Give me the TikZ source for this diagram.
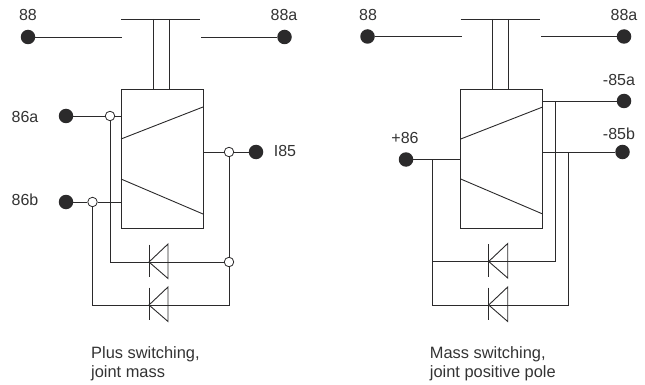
\documentclass[tikz,border=0pt]{standalone}
\usepackage{fontspec}
\setmainfont{Liberation Sans}
\definecolor{ink}{HTML}{2B2A2B}
\definecolor{txt}{HTML}{333333}
\tikzset{
 x=1pt,y=-1pt,
 wire/.style={draw=ink,line width=0.9pt},
 term/.style={circle,fill=ink,draw=none,minimum size=14.5pt,inner sep=0pt},
 junc/.style={circle,fill=white,draw=ink,line width=0.8pt,minimum size=9.5pt,inner sep=0pt},
 lab/.style={text=txt,font=\fontsize{16}{18}\selectfont,inner sep=0pt,anchor=center},
 captext/.style={text=txt,font=\fontsize{16.4}{19}\selectfont,inner sep=0pt,anchor=north west,align=left}
}
\newcommand{\diode}[2]{%
 \draw[wire] (#1,#2-17.5) -- (#1,#2+15);
 \draw[wire] (#1+19,#2-18) -- (#1,#2) -- (#1+19,#2+16.5) -- cycle;
}
\newcommand{\relaybody}[1]{%
 \coordinate (topL) at (#1+121,19);
 \coordinate (topR) at (#1+200,19);
 \draw[wire] (topL) -- (topR);
 \draw[wire] (#1+153,19) -- (#1+153,89);
 \draw[wire] (#1+169,19) -- (#1+169,89);
 \draw[wire] (#1+121,89) rectangle (#1+203,228);
 \draw[wire] (#1+121,139) -- (#1+203,107);
 \draw[wire] (#1+121,179) -- (#1+203,214);
}
\begin{document}
\begin{tikzpicture}
\useasboundingbox (0,0) rectangle (645,385);
% left
\relaybody{0}
\node[term] (a88) at (28,37) {};
\node[term] (a88a) at (284.5,37) {};
\coordinate (a88e) at (122,37);
\coordinate (a88ae) at (201,37);
\draw[wire] (a88) -- (a88e);
\draw[wire] (a88a) -- (a88ae);
\node[lab] at (28,15) {88};
\node[lab] at (284,15) {88a};
\node[term] (a86a) at (66,116) {};
\node[junc] (j1) at (110,116) {};
\coordinate (b1) at (121,116);
\draw[wire] (a86a) -- (j1) -- (b1);
\node[lab] at (25,117) {86a};
\node[term] (a86b) at (66,202) {};
\node[junc] (j2) at (92.5,202) {};
\coordinate (b2) at (121,202);
\draw[wire] (a86b) -- (j2) -- (b2);
\node[lab] at (25,200) {86b};
\node[term] (a85) at (256,152) {};
\node[junc] (j3) at (229,152) {};
\coordinate (b3) at (203,152);
\draw[wire] (b3) -- (j3) -- (a85);
\node[lab] at (285,151) {I85};
\node[junc] (j4) at (229,262) {};
\coordinate (c1) at (110,262);
\coordinate (c2) at (92.5,305);
\coordinate (c3) at (229,305);
\draw[wire] (j1) -- (c1) -- (j4);
\draw[wire] (j3) -- (j4) -- (c3) -- (c2) -- (j2);
\diode{149}{262}
\diode{149}{305}
\node[captext] at (91,346.5) {Plus switching,\\joint mass};
% right
\relaybody{339.7}
\node[term] (b88) at (367.5,36.5) {};
\node[term] (b88a) at (624,36.5) {};
\coordinate (b88e) at (461.5,36.5);
\coordinate (b88ae) at (540.5,36.5);
\draw[wire] (b88) -- (b88e);
\draw[wire] (b88a) -- (b88ae);
\node[lab] at (368,15) {88};
\node[lab] at (624,15) {88a};
\node[term] (t85a) at (624,101) {};
\coordinate (r1) at (542.7,101);
\draw[wire] (r1) -- (t85a);
\node[lab] at (619,80) {-85a};
\node[term] (t85b) at (622.5,152) {};
\coordinate (r2) at (542.7,152);
\draw[wire] (r2) -- (t85b);
\node[lab] at (619,134) {-85b};
\node[term] (t86) at (406,159.5) {};
\coordinate (r3) at (460.7,159.5);
\draw[wire] (t86) -- (r3);
\node[lab] at (405,138) {+86};
\coordinate (v1) at (432,159.5);
\coordinate (v2) at (432,305);
\coordinate (v3) at (568.3,305);
\coordinate (v4) at (568.3,152);
\coordinate (v5) at (432,261.5);
\coordinate (v6) at (555.7,261.5);
\coordinate (v7) at (555.7,101);
\draw[wire] (v1) -- (v2) -- (v3) -- (v4);
\draw[wire] (v5) -- (v6) -- (v7);
\diode{488.7}{261.5}
\diode{488.7}{305}
\node[captext] at (429.7,346.5) {Mass switching,\\joint positive pole};
\end{tikzpicture}
\end{document}
